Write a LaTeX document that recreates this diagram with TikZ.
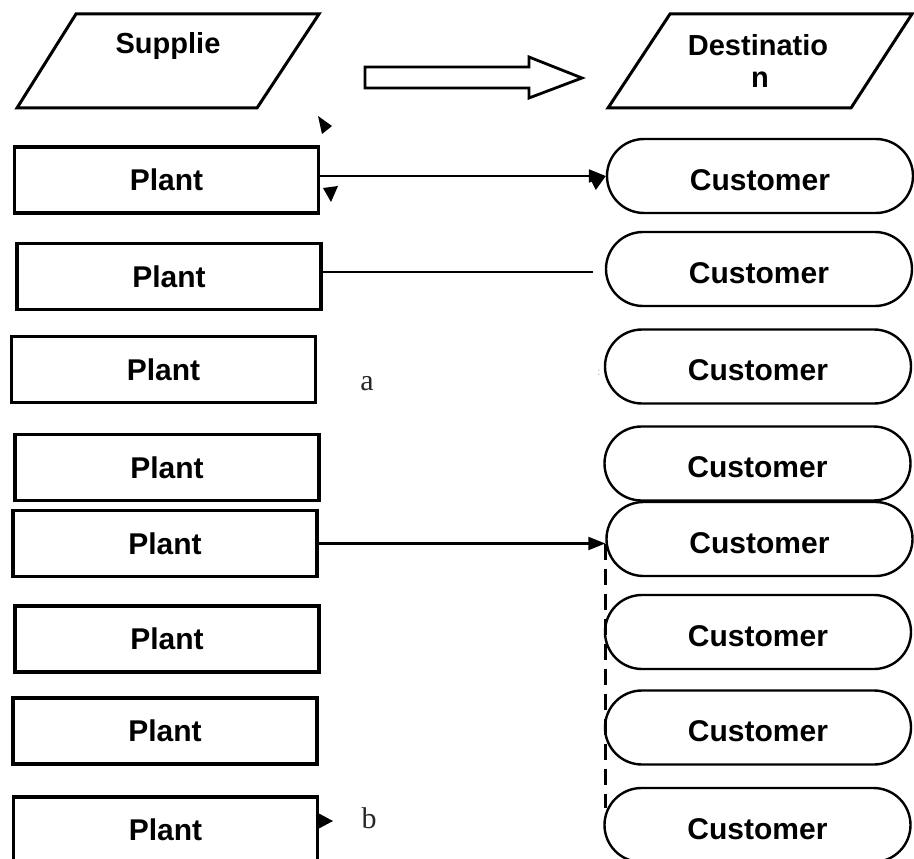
\documentclass[tikz,border=0pt]{standalone}
\usepackage{fontspec}
\setmainfont{Liberation Sans}
\newfontfamily\serifletter{Liberation Serif}
\usetikzlibrary{shapes.misc,arrows.meta}
\tikzset{
  plantbox/.style={draw, line width=3.2pt, minimum width=304pt, minimum height=66pt, inner sep=0pt,
    font=\bfseries\fontsize{30}{36}\selectfont},
  custbox/.style={draw, rounded rectangle, line width=2.4pt, minimum width=306pt, minimum height=74pt, inner sep=0pt,
    text height=28pt, text depth=0pt, font=\bfseries\fontsize{30}{36}\selectfont},
  headtext/.style={font=\bfseries\fontsize{29}{34}\selectfont, inner sep=0pt},
  conn/.style={line width=2.2pt, -{Triangle[length=17pt,width=13pt]}},
  plainconn/.style={line width=2.2pt},
  para/.style={line width=3pt, line join=miter},
  stray/.style={fill=black},
  letter/.style={font=\serifletter\fontsize{30}{34}\selectfont, inner sep=0pt, text=black!85}
}
\begin{document}
\begin{tikzpicture}[x=1pt,y=-1pt]
\useasboundingbox (0,0) rectangle (914,859);
% header parallelograms
\draw[para] (76,14) -- (319,14) -- (257,108) -- (17,108) -- cycle;
\node[headtext] (sup) at (168,46) {Supplie};
\draw[para] (670,14) -- (912,14) -- (851,108) -- (608,108) -- cycle;
\node[headtext] (dest1) at (758,45) {Destinatio};
\node[headtext] (dest2) at (760,80) {n};
% block arrow
\draw[line width=2.8pt, line join=miter] (365,67) -- (529,67) -- (529,57) -- (582,78) -- (529,98) -- (529,88) -- (365,88) -- cycle;
% stray triangle under header
\fill[stray] (318,116) -- (332,126) -- (322,134) -- cycle;
% plants
\node[plantbox] (p1) at (166.5,180) {Plant};
\node[plantbox] (p2) at (169,276.5) {Plant};
\node[plantbox] (p3) at (163.5,369.5) {Plant};
\node[plantbox] (p4) at (167,467.5) {Plant};
\node[plantbox] (p5) at (165,543.5) {Plant};
\node[plantbox] (p6) at (167,639) {Plant};
\node[plantbox] (p7) at (165,731) {Plant};
\node[plantbox] (p8) at (165.5,830) {Plant};
% customers
\node[custbox] (c1) at (760,176) {Customer};
\node[custbox] (c2) at (759,269) {Customer};
\node[custbox] (c3) at (758,366.5) {Customer};
\node[custbox] (c4) at (757.5,463.5) {Customer};
\node[custbox] (c5) at (759.5,539) {Customer};
\node[custbox] (c6) at (758,632) {Customer};
\node[custbox] (c7) at (758,727.5) {Customer};
\node[custbox] (c8) at (757.5,825) {Customer};
% connectors
\draw[conn] (p1.east |- c1.west) -- (c1.west);
\fill[stray] (c1.west) -- ++(-16,2) -- ++(6,12) -- cycle;
\fill[stray] (323,188) -- (338,186) -- (331,202) -- cycle;
\draw[plainconn] (p2.east |- 0,272) -- ([xshift=-12pt]c2.west |- 0,272);
\coordinate (t5) at (c5.west |- p5.east);
\draw[conn] (p5.east) -- (t5);
\coordinate (dend) at (605,808);
\draw[line width=2.6pt, dash pattern=on 16pt off 9pt] (t5) -- (t5 |- dend);
\fill[stray] (318,813) -- (333,821) -- (318,829) -- cycle;
% stray letters
\node[letter] (la) at (367,384) {a};
\node[letter] (lb) at (369,818) {b};
\node[font=\fontsize{10}{10}\selectfont, text=black!40, inner sep=0pt] (colon) at (599,373) {:};
\end{tikzpicture}
\end{document}
